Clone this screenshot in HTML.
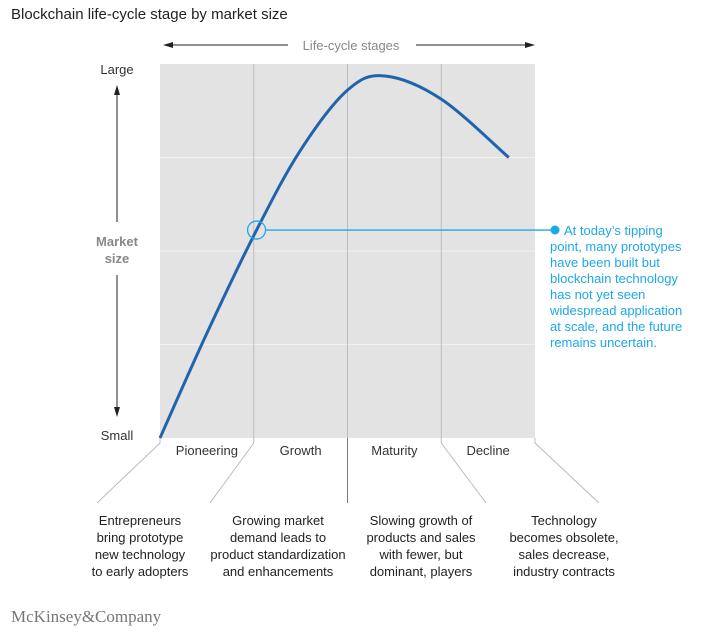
<!DOCTYPE html>
<html><head><meta charset="utf-8"><style>
body{margin:0;background:#fff;font-family:"Liberation Sans",sans-serif;}
svg text{font-family:"Liberation Sans",sans-serif;}
</style></head><body>
<svg width="713" height="632" xmlns="http://www.w3.org/2000/svg">
<text x="11" y="19" font-size="15" fill="#222">Blockchain life-cycle stage by market size</text>
<g id="top-arrow">
<line x1="168" y1="45" x2="288" y2="45" stroke="#222" stroke-width="1"/>
<line x1="416" y1="45" x2="528" y2="45" stroke="#222" stroke-width="1"/>
<polygon points="163,45 173,42 173,48" fill="#222"/>
<polygon points="535,45 525,42 525,48" fill="#222"/>
<text x="351" y="50" font-size="13" fill="#888" text-anchor="middle">Life-cycle stages</text>
</g>
<rect x="160" y="64" width="375" height="374" fill="#e3e3e3"/>
<g id="grid"></g>
<g id="yaxis">
<text x="117" y="74" font-size="13" fill="#333" text-anchor="middle">Large</text>
<text x="117" y="440" font-size="13" fill="#333" text-anchor="middle">Small</text>
<line x1="117" y1="92" x2="117" y2="222" stroke="#222"/>
<polygon points="117,85 114,95 120,95" fill="#222"/>
<line x1="117" y1="275" x2="117" y2="410" stroke="#222"/>
<polygon points="117,417 114,407 120,407" fill="#222"/>
<text x="117" y="246" font-size="13" fill="#888" font-weight="bold" text-anchor="middle">Market</text>
<text x="117" y="263" font-size="13" fill="#888" font-weight="bold" text-anchor="middle">size</text>
</g>
<g id="stages"></g>
<path id="curve" fill="none" stroke="#1f64ad" stroke-width="3"/>
<g>
<circle id="tipc" cx="256" cy="230" r="9" fill="none" stroke="#1ea8e6" stroke-width="1.3"/>
<line id="tipl" x1="265" y1="230" x2="553" y2="230" stroke="#1ea8e6" stroke-width="1.3"/>
<circle cx="555" cy="230" r="4.5" fill="#1ea8e6"/>
</g>
<text font-size="13" fill="#1ea8e6">
<tspan x="564" y="235">At today’s tipping</tspan>
<tspan x="550" y="251">point, many prototypes</tspan>
<tspan x="550" y="267">have been built but</tspan>
<tspan x="550" y="283">blockchain technology</tspan>
<tspan x="550" y="299">has not yet seen</tspan>
<tspan x="550" y="315">widespread application</tspan>
<tspan x="550" y="331">at scale, and the future</tspan>
<tspan x="550" y="347">remains uncertain.</tspan>
</text>
<g font-size="13" fill="#222" text-anchor="middle">
<text><tspan x="140" y="525">Entrepreneurs</tspan><tspan x="140" y="542">bring prototype</tspan><tspan x="140" y="559">new technology</tspan><tspan x="140" y="576">to early adopters</tspan></text>
<text><tspan x="278" y="525">Growing market</tspan><tspan x="278" y="542">demand leads to</tspan><tspan x="278" y="559">product standardization</tspan><tspan x="278" y="576">and enhancements</tspan></text>
<text><tspan x="421" y="525">Slowing growth of</tspan><tspan x="421" y="542">products and sales</tspan><tspan x="421" y="559">with fewer, but</tspan><tspan x="421" y="576">dominant, players</tspan></text>
<text><tspan x="564" y="525">Technology</tspan><tspan x="564" y="542">becomes obsolete,</tspan><tspan x="564" y="559">sales decrease,</tspan><tspan x="564" y="576">industry contracts</tspan></text>
</g>
<text x="11" y="622" font-size="17" fill="#777" style="font-family:'Liberation Serif',serif">McKinsey&amp;Company</text>
</svg>
<script>
const stages=["Pioneering","Growth","Maturity","Decline"];
const curveX=[0,0.5,1.03,1.5,2,2.4,3,3.72];
const curveY=[0,28,55.6,77,93,96.8,90.6,75];
const gridY=[25,50,75];
const tipX=1.03, tipY=55.6;
const X0=160,X1=535,Y0=438,Y1=64;
const sx=v=>X0+v*(X1-X0)/stages.length;
const sy=v=>Y0-v*(Y0-Y1)/100;
const NS="http://www.w3.org/2000/svg";
const grid=document.getElementById('grid');
gridY.forEach(g=>{const l=document.createElementNS(NS,'line');
l.setAttribute('x1',X0);l.setAttribute('x2',X1);l.setAttribute('y1',sy(g));l.setAttribute('y2',sy(g));
l.setAttribute('stroke','#f2f2f2');


grid.appendChild(l);});
const st=document.getElementById('stages');
const fanEnd=[97,210,347,486,599];
for(let i=0;i<=stages.length;i++){
 const x=sx(i);
 if(i>0&&i<stages.length){const l=document.createElementNS(NS,'line');
 l.setAttribute('x1',x);l.setAttribute('x2',x);l.setAttribute('y1',Y1);l.setAttribute('y2',Y0);l.setAttribute('stroke','#bdbdbd');
 
 
 st.appendChild(l);}
 const p=document.createElementNS(NS,'polyline');
 p.setAttribute('points',`${x},${Y0} ${x},${Y0+5} ${fanEnd[i]},503`);
 if(i===2)p.setAttribute('points',`${x},${Y0} ${x},503`);
 p.setAttribute('fill','none');p.setAttribute('stroke',i===2?'#777':'#bbb');
 
 
 st.appendChild(p);
}
stages.forEach((s,i)=>{const t=document.createElementNS(NS,'text');
 t.setAttribute('x',(sx(i)+sx(i+1))/2);t.setAttribute('y',455);t.setAttribute('text-anchor','middle');
 t.setAttribute('font-size','13');t.setAttribute('fill','#333');t.textContent=s;
 
 
 st.appendChild(t);});
const pts=curveX.map((v,i)=>[sx(v),sy(curveY[i])]);
let d=`M${pts[0][0]},${pts[0][1]}`;
for(let i=0;i<pts.length-1;i++){
 const p0=pts[Math.max(0,i-1)],p1=pts[i],p2=pts[i+1],p3=pts[Math.min(pts.length-1,i+2)];
 const c1=[p1[0]+(p2[0]-p0[0])/6,p1[1]+(p2[1]-p0[1])/6];
 const c2=[p2[0]-(p3[0]-p1[0])/6,p2[1]-(p3[1]-p1[1])/6];
 d+=` C${c1[0]},${c1[1]} ${c2[0]},${c2[1]} ${p2[0]},${p2[1]}`;
}
document.getElementById('curve').setAttribute('d',d);
const tc=document.getElementById('tipc');tc.setAttribute('cx',sx(tipX));tc.setAttribute('cy',sy(tipY));
const tl=document.getElementById('tipl');tl.setAttribute('x1',sx(tipX)+9);tl.setAttribute('y1',sy(tipY));tl.setAttribute('y2',sy(tipY));
</script>
</body></html>
